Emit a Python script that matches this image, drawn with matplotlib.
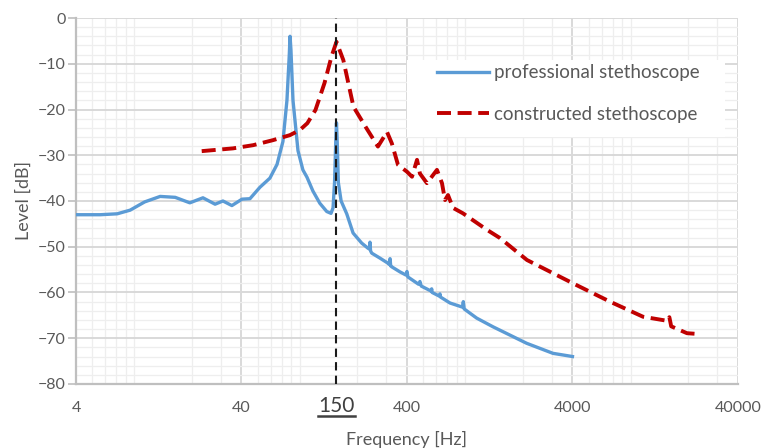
import matplotlib
matplotlib.use("Agg")
import matplotlib.pyplot as plt
import numpy as np
from matplotlib import ticker
from matplotlib.lines import Line2D
from matplotlib.patches import Rectangle
import matplotlib.transforms as mtransforms

# ---------------- frequency response of the two stethoscopes ----------------

prof_freq = [4, 5.6, 7.1, 8.5, 10.4, 12.9, 15.9, 19.5, 23.4, 27.7, 30.9, 35,
             40.3, 45, 51.7, 59.4, 65.6, 71.2, 75.3, 77.8, 78.6, 79.6, 81.9,
             87.8, 94, 99.5, 108, 119, 131, 139, 143, 146, 148.5, 150, 151.5,
             154, 160, 173, 189, 213, 232, 237, 239, 241, 245, 275, 307, 313,
             316, 319, 324, 363, 395, 400, 405, 470, 479, 488, 560, 564, 568,
             628, 633, 638, 728, 865, 876, 887, 1055, 1324, 2113, 3048, 4000]
prof_level = [-43, -43, -42.8, -42, -40.2, -39, -39.2, -40.4, -39.3, -40.7, -40,
              -41, -39.6, -39.5, -37, -35, -32, -27, -18, -8, -4, -7, -18,
              -29, -33.2, -34.8, -37.8, -40.5, -42.3, -42.7, -41.5, -36, -27,
              -22.9, -27, -36, -40, -42.8, -47, -49.2, -50.3, -50.5, -49,
              -50.9, -51.4, -52.5, -53.6, -53.9, -52.6, -54.2, -54.4, -55.5,
              -56.2, -55.4, -56.6, -58.2, -57.6, -58.6, -59.7, -59.2, -60,
              -60.8, -60.3, -61, -62.3, -63.2, -62, -63.6, -65.6, -67.5, -71.1,
              -73.3, -74]

built_freq = [23, 35.5, 47, 62, 78.5, 90, 100, 112, 127, 140, 150, 165, 190,
              225, 267, 303, 324, 353, 400, 429, 460, 479, 528, 607, 651, 679,
              708, 759, 872, 1002, 1217, 1459, 2124, 4028, 6740, 10670, 15000,
              15400, 15800, 19680, 23560]
built_level = [-29.1, -28.5, -27.8, -26.7, -25.6, -24.5, -23, -20.1, -14.2,
               -8.4, -5.2, -9.2, -19.4, -23.8, -28.1, -24.9, -27.4, -32.1,
               -33.6, -34.7, -31, -34, -36.1, -33.2, -36.1, -39.8, -38.7, -41.5,
               -42.7, -44.2, -46.3, -48.1, -52.9, -58, -62, -65.3, -66.2, -65.4,
               -67.4, -68.9, -69.1]

f_mark = 150
xtick_vals = [4, 40, 400, 4000, 40000]
xtick_text = ["4", "40", "400", "4000", "40000"]

txt_col = '#595959'
plt.rcParams['font.family'] = ['Lato', 'DejaVu Sans']

fig = plt.figure(figsize=[7.66, 4.48], dpi=100)
ax = fig.add_axes([0.0992, 0.1429, 0.8642, 0.8169])

ax.plot(prof_freq, prof_level, c='#5B9BD5', lw=2.4,
        label="professional stethoscope", zorder=3)
ax.plot(built_freq, built_level, c='#C00000', lw=2.8, dashes=(3.6, 1.7),
        label="constructed stethoscope", zorder=3)
ax.axvline(f_mark, color='#1a1a1a', lw=1.5, dashes=(4, 2.5), zorder=4)

ax.set_xscale('log')
ax.set_xlim(4, 40000)
ax.set_ylim(-80, 0)
ax.set_yticks(np.arange(-80, 1, 10))
ax.yaxis.set_minor_locator(ticker.MultipleLocator(2))
ax.xaxis.set_major_locator(ticker.FixedLocator(xtick_vals))
ax.xaxis.set_minor_locator(ticker.LogLocator(base=10, subs=np.arange(2, 10)))
ax.xaxis.set_major_formatter(ticker.FixedFormatter(xtick_text))
ax.xaxis.set_minor_formatter(ticker.NullFormatter())

ax.grid(visible=True, which='major', color='#D9D9D9', lw=1.4, zorder=0)
ax.grid(visible=True, which='minor', color='#EEEEEE', lw=0.9, zorder=0)
ax.set_axisbelow(True)

for side in ['top', 'right']:
    ax.spines[side].set_visible(False)
for side in ['left', 'bottom']:
    ax.spines[side].set_color('#BFBFBF')
    ax.spines[side].set_linewidth(1.6)

ax.tick_params(axis='x', which='both', length=0, pad=12, labelsize=11.5,
               labelcolor=txt_col)
ax.tick_params(axis='y', which='major', length=6, width=1.2, color='#BFBFBF',
               pad=1.5, labelsize=11.5, labelcolor=txt_col)
ax.tick_params(axis='y', which='minor', length=0)

# the marked frequency gets its own underlined label
trans = mtransforms.blended_transform_factory(ax.transData, ax.transAxes)
ax.text(f_mark, -0.059, "150", transform=trans, ha='center', va='center',
        fontsize=15, color='#404040')
ax.add_line(Line2D([f_mark / 1.29, f_mark * 1.29], [-0.088, -0.088],
                   transform=trans, color='#404040', lw=1.8, clip_on=False))

ax.set_xlabel("Frequency [Hz]", fontsize=13, color=txt_col, labelpad=12)
ax.set_ylabel("Level [dB]", fontsize=13, color=txt_col, labelpad=4)

# white panel behind the legend, wider than the legend itself
ax.add_patch(Rectangle((0.5, 0.675), 0.48, 0.21, transform=ax.transAxes,
                       facecolor='white', edgecolor='none', zorder=5))
leg = ax.legend(loc='upper left', bbox_to_anchor=(0.545, 0.873), fontsize=13.5,
                frameon=False, handlelength=2.8, handletextpad=0.25,
                labelspacing=1.3, borderpad=0, borderaxespad=0)
leg.set_zorder(6)
for t in leg.get_texts():
    t.set_color(txt_col)

plt.savefig('out.png', dpi=100)
plt.close(fig)
